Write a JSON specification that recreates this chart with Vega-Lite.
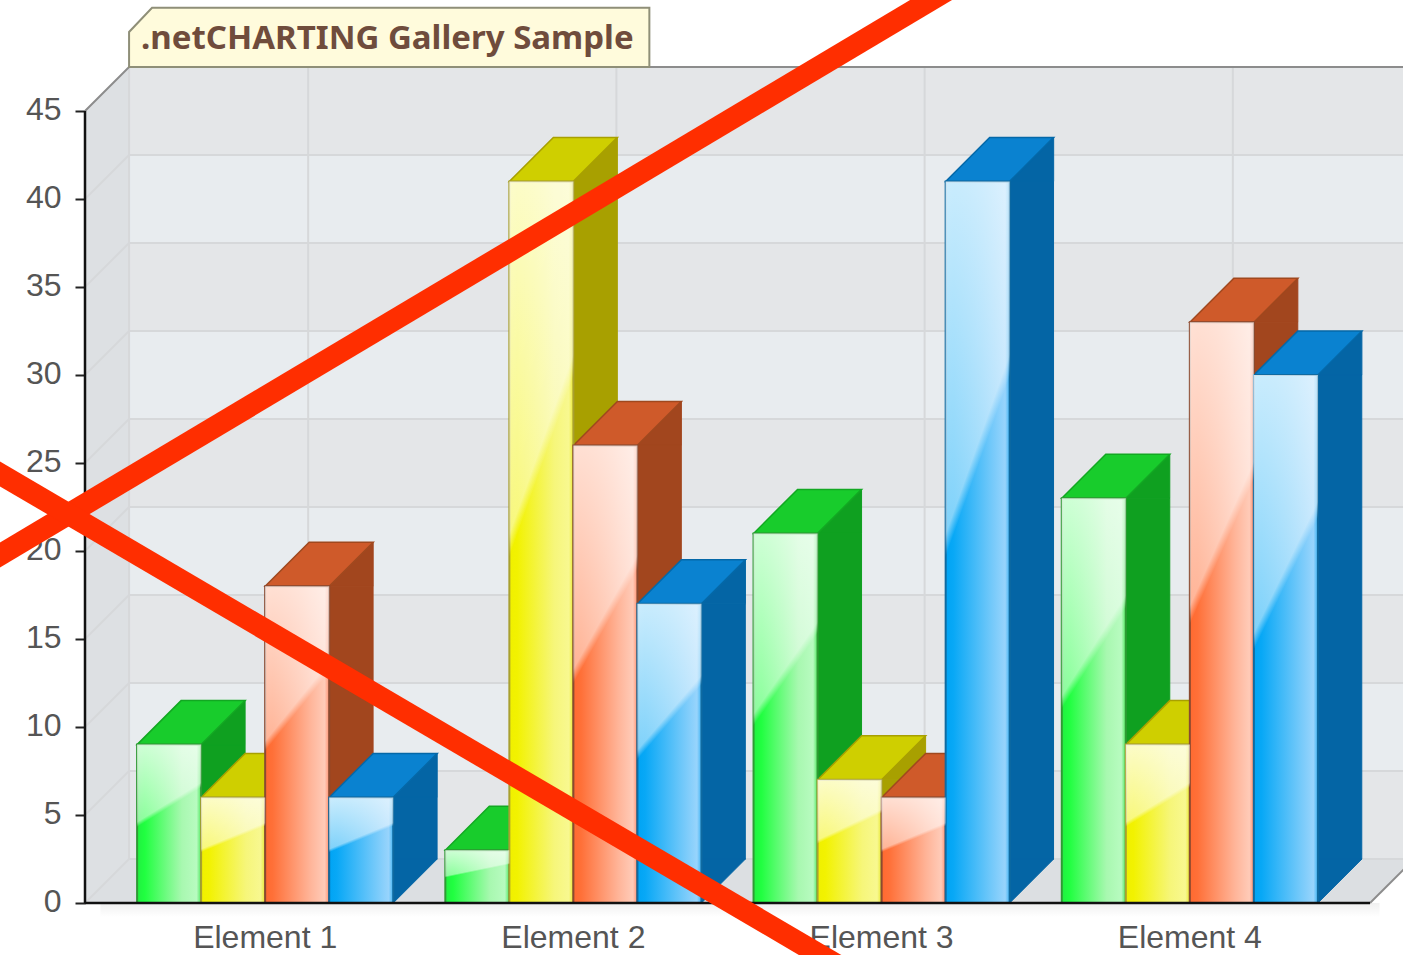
{
"$schema":"https://vega.github.io/schema/vega-lite/v6.json",
"width":1285,"height":792,
"padding":{"left":85,"top":111,"right":33,"bottom":52},
"autosize":{"type":"none"},
"background":"white",
"config":{"view":{"stroke":null},"font":"Liberation Sans",
"axisY":{"domain":false,"grid":false,"tickCount":10,"tickSize":10,"tickWidth":2,"tickColor":"#222","labelFontSize":32,"labelColor":"#555","labelFont":"Liberation Sans","labelPadding":14,"labelOffset":-2}},
"datasets":{
"bars":[
{"element":"Element 1","series":"Series 1","value":9},{"element":"Element 1","series":"Series 2","value":6},{"element":"Element 1","series":"Series 3","value":18},{"element":"Element 1","series":"Series 4","value":6},
{"element":"Element 2","series":"Series 1","value":3},{"element":"Element 2","series":"Series 2","value":41},{"element":"Element 2","series":"Series 3","value":26},{"element":"Element 2","series":"Series 4","value":17},
{"element":"Element 3","series":"Series 1","value":21},{"element":"Element 3","series":"Series 2","value":7},{"element":"Element 3","series":"Series 3","value":6},{"element":"Element 3","series":"Series 4","value":41},
{"element":"Element 4","series":"Series 1","value":23},{"element":"Element 4","series":"Series 2","value":9},{"element":"Element 4","series":"Series 3","value":33},{"element":"Element 4","series":"Series 4","value":30}],
"bands":[{"v0":42.5,"v1":47.5,"tone":"a"},{"v0":37.5,"v1":42.5,"tone":"b"},{"v0":32.5,"v1":37.5,"tone":"a"},{"v0":27.5,"v1":32.5,"tone":"b"},{"v0":22.5,"v1":27.5,"tone":"a"},{"v0":17.5,"v1":22.5,"tone":"b"},{"v0":12.5,"v1":17.5,"tone":"a"},{"v0":7.5,"v1":12.5,"tone":"b"},{"v0":2.5,"v1":7.5,"tone":"a"}],
"walls":[{"id":"left","gx":0,"lo":0,"hi":45},{"id":"left","gx":0.143,"lo":2.5,"hi":47.5}],
"floor":[{"id":"floor","gx":0,"lo":0,"hi":0},{"id":"floor","gx":0.143,"lo":0,"hi":2.5},{"id":"floor","gx":4.169,"lo":0,"hi":2.5},{"id":"floor","gx":4.312,"lo":2.5,"hi":2.5}],
"shadow":[{"gx":0.05,"gx2":4.2,"lo":-0.8,"hi":0}],
"grid":[
{"id":"h0","gx":0,"gy":0},{"id":"h0","gx":0.143,"gy":2.5},{"id":"h0","gx":4.312,"gy":2.5},
{"id":"h5","gx":0,"gy":5},{"id":"h5","gx":0.143,"gy":7.5},{"id":"h5","gx":4.312,"gy":7.5},
{"id":"h10","gx":0,"gy":10},{"id":"h10","gx":0.143,"gy":12.5},{"id":"h10","gx":4.312,"gy":12.5},
{"id":"h15","gx":0,"gy":15},{"id":"h15","gx":0.143,"gy":17.5},{"id":"h15","gx":4.312,"gy":17.5},
{"id":"h20","gx":0,"gy":20},{"id":"h20","gx":0.143,"gy":22.5},{"id":"h20","gx":4.312,"gy":22.5},
{"id":"h25","gx":0,"gy":25},{"id":"h25","gx":0.143,"gy":27.5},{"id":"h25","gx":4.312,"gy":27.5},
{"id":"h30","gx":0,"gy":30},{"id":"h30","gx":0.143,"gy":32.5},{"id":"h30","gx":4.312,"gy":32.5},
{"id":"h35","gx":0,"gy":35},{"id":"h35","gx":0.143,"gy":37.5},{"id":"h35","gx":4.312,"gy":37.5},
{"id":"h40","gx":0,"gy":40},{"id":"h40","gx":0.143,"gy":42.5},{"id":"h40","gx":4.312,"gy":42.5},
{"id":"v0","gx":0.143,"gy":2.5},{"id":"v0","gx":0.143,"gy":47.5},
{"id":"v1","gx":0.724,"gy":2.5},{"id":"v1","gx":0.724,"gy":47.5},
{"id":"v2","gx":1.724,"gy":2.5},{"id":"v2","gx":1.724,"gy":47.5},
{"id":"v3","gx":2.724,"gy":2.5},{"id":"v3","gx":2.724,"gy":47.5},
{"id":"v4","gx":3.724,"gy":2.5},{"id":"v4","gx":3.724,"gy":47.5}],
"edge":[{"id":"top","gx":0,"gy":45},{"id":"top","gx":0.143,"gy":47.5},{"id":"top","gx":4.312,"gy":47.5},{"id":"right","gx":4.169,"gy":0},{"id":"right","gx":4.312,"gy":2.5}],
"tag":[{"id":"tag","gx":0.143,"lo":47.5,"hi":49.49},{"id":"tag","gx":0.2175,"lo":47.5,"hi":50.86},{"id":"tag","gx":1.831,"lo":47.5,"hi":50.86}],
"title":[{"gx":0.182,"gy":49.1,"label":".netCHARTING Gallery Sample"}],
"base":[{"id":"y","gx":0,"gy":0},{"id":"y","gx":0,"gy":45},{"id":"x","gx":0,"gy":0},{"id":"x","gx":4.169,"gy":0}],
"cross":[{"id":"a","gx":-0.4056,"gy":18.42},{"id":"a","gx":2.888,"gy":52.8},{"id":"b","gx":-0.4056,"gy":25.71},{"id":"b","gx":2.515,"gy":-4.29}]
},
"layer":[
{"layer":[
{"data":{"name":"bands"},"mark":{"type":"rect"},"encoding":{
"x":{"datum":0.143,"type":"quantitative","scale":{"domain":[0,4.169]},"axis":null},
"x2":{"datum":4.312},
"y":{"field":"v0","type":"quantitative","title":null,"scale":{"domain":[0,45],"nice":false}},
"y2":{"field":"v1"},
"fill":{"field":"tone","type":"nominal","legend":null,"scale":{"domain":["a","b"],"range":["#e4e6e8","#e8ecef"]}}}},
{"data":{"name":"shadow"},"mark":{"type":"rect","fill":{"gradient":"linear","x1":0,"x2":0,"y1":0,"y2":1,"stops":[{"offset":0,"color":"#f0f0f0"},{"offset":1,"color":"#ffffff"}]}},"encoding":{
"x":{"field":"gx","type":"quantitative","scale":{"domain":[0,4.169]},"axis":null},
"x2":{"field":"gx2"},
"y":{"field":"lo","type":"quantitative","title":null},"y2":{"field":"hi"}}},
{"data":{"name":"walls"},"mark":{"type":"area","fill":"#dde0e3"},"encoding":{
"x":{"field":"gx","type":"quantitative","scale":{"domain":[0,4.169]},"axis":null},
"y":{"field":"lo","type":"quantitative","title":null},"y2":{"field":"hi"}}},
{"data":{"name":"floor"},"mark":{"type":"area","fill":"#dcdfe2"},"encoding":{
"x":{"field":"gx","type":"quantitative","scale":{"domain":[0,4.169]},"axis":null},
"y":{"field":"lo","type":"quantitative","title":null},"y2":{"field":"hi"}}},
{"data":{"name":"grid"},"mark":{"type":"line","stroke":"#d6d8da","strokeWidth":2},"encoding":{
"x":{"field":"gx","type":"quantitative","scale":{"domain":[0,4.169]},"axis":null},
"y":{"field":"gy","type":"quantitative","title":null},"detail":{"field":"id"}}},
{"data":{"name":"edge"},"mark":{"type":"line","stroke":"#8c8c8c","strokeWidth":2},"encoding":{
"x":{"field":"gx","type":"quantitative","scale":{"domain":[0,4.169]},"axis":null},
"y":{"field":"gy","type":"quantitative","title":null},"detail":{"field":"id"}}},
{"data":{"name":"tag"},"mark":{"type":"area","fill":"#fffbdc","stroke":"#8f8f78","strokeWidth":2},"encoding":{
"x":{"field":"gx","type":"quantitative","scale":{"domain":[0,4.169]},"axis":null},
"y":{"field":"lo","type":"quantitative","title":null},"y2":{"field":"hi"}}},
{"data":{"name":"title"},"mark":{"type":"text","align":"left","baseline":"middle","font":"Noto Sans","fontWeight":"bold","fontSize":33,"fill":"#6f4c3c"},"encoding":{
"x":{"field":"gx","type":"quantitative","scale":{"domain":[0,4.169]},"axis":null},
"y":{"field":"gy","type":"quantitative","title":null},"text":{"field":"label"}}}
]},
{"data":{"name":"bars"},
"resolve":{"scale":{"fill":"independent","stroke":"independent","xOffset":"independent"}},
"encoding":{"x":{"field":"element","type":"nominal","title":null,"scale":{"paddingInner":0.169,"paddingOuter":0.169},
"axis":{"labelAngle":0,"domain":false,"grid":false,"tickSize":10,"tickWidth":2,"tickColor":"#222","labelFontSize":32,"labelColor":"#555","labelFont":"Liberation Sans","labelPadding":9}}},
"layer":[
{"mark":{"type":"bar","strokeWidth":1},"encoding":{
"xOffset":{"field":"series","scale":{"domain":["Series 1","Series 2","Series 3","Series 4"],"range":[44,300]}},
"y":{"field":"value","type":"quantitative","title":null},
"y2":{"datum":2.5},
"fill":{"field":"series","legend":null,"scale":{"domain":["Series 1","Series 2","Series 3","Series 4"],"range":["#0fa020","#a8a000","#a2461e","#0465a5"]}},
"stroke":{"field":"series","legend":null,"scale":{"domain":["Series 1","Series 2","Series 3","Series 4"],"range":["#0fa020","#a8a000","#a2461e","#0465a5"]}}}},
{"mark":{"type":"point","shape":"M32,0L76,-44L76,0Z","filled":true,"size":4,"opacity":1,"strokeWidth":1},"encoding":{
"xOffset":{"field":"series","scale":{"domain":["Series 1","Series 2","Series 3","Series 4"]}},
"y":{"field":"value","type":"quantitative","title":null},
"fill":{"field":"series","legend":null,"scale":{"domain":["Series 1","Series 2","Series 3","Series 4"],"range":["#0fa020","#a8a000","#a2461e","#0465a5"]}},
"stroke":{"field":"series","legend":null,"scale":{"domain":["Series 1","Series 2","Series 3","Series 4"],"range":["#0fa020","#a8a000","#a2461e","#0465a5"]}}}},
{"mark":{"type":"point","shape":"M32,0L76,-44L32,-44Z","filled":true,"size":4,"opacity":1,"strokeWidth":1},"encoding":{
"xOffset":{"field":"series","scale":{"domain":["Series 1","Series 2","Series 3","Series 4"]}},
"y":{"datum":0,"type":"quantitative","title":null},
"fill":{"field":"series","legend":null,"scale":{"domain":["Series 1","Series 2","Series 3","Series 4"],"range":["#0fa020","#a8a000","#a2461e","#0465a5"]}},
"stroke":{"field":"series","legend":null,"scale":{"domain":["Series 1","Series 2","Series 3","Series 4"],"range":["#0fa020","#a8a000","#a2461e","#0465a5"]}}}},
{"mark":{"type":"point","shape":"M-32,0L32,0L76,-44L12,-44Z","filled":true,"size":4,"opacity":1,"strokeWidth":1.5},"encoding":{
"xOffset":{"field":"series","scale":{"domain":["Series 1","Series 2","Series 3","Series 4"]}},
"y":{"field":"value","type":"quantitative","title":null},
"fill":{"field":"series","legend":null,"scale":{"domain":["Series 1","Series 2","Series 3","Series 4"],"range":["#18cc2c","#cfcf00","#cf5a2a","#0a82d0"]}},
"stroke":{"field":"series","legend":null,"scale":{"domain":["Series 1","Series 2","Series 3","Series 4"],"range":["#12a822","#a8a000","#a0481e","#0468a8"]}}}},
{"mark":{"type":"bar","strokeWidth":2},"encoding":{
"xOffset":{"field":"series","scale":{"domain":["Series 1","Series 2","Series 3","Series 4"]}},
"y":{"field":"value","type":"quantitative","title":null},
"fill":{"condition":[
{"test":"datum.series==='Series 1'","value":{"gradient":"linear","x1":0,"x2":1,"y1":0,"y2":0,"stops":[{"offset":0,"color":"#20f040"},{"offset":0.12,"color":"#20ff40"},{"offset":0.7,"color":"#a8f8b0"},{"offset":0.93,"color":"#b8fbc0"},{"offset":1,"color":"#50e860"}]}},
{"test":"datum.series==='Series 2'","value":{"gradient":"linear","x1":0,"x2":1,"y1":0,"y2":0,"stops":[{"offset":0,"color":"#f0f000"},{"offset":0.12,"color":"#f2f200"},{"offset":0.7,"color":"#f6f67a"},{"offset":0.93,"color":"#f8f890"},{"offset":1,"color":"#e8e830"}]}},
{"test":"datum.series==='Series 3'","value":{"gradient":"linear","x1":0,"x2":1,"y1":0,"y2":0,"stops":[{"offset":0,"color":"#ff6a30"},{"offset":0.12,"color":"#ff7038"},{"offset":0.7,"color":"#ffb498"},{"offset":0.93,"color":"#ffcbb8"},{"offset":1,"color":"#ff9070"}]}}],
"value":{"gradient":"linear","x1":0,"x2":1,"y1":0,"y2":0,"stops":[{"offset":0,"color":"#00a4f4"},{"offset":0.12,"color":"#08a8f6"},{"offset":0.7,"color":"#70c8fa"},{"offset":0.93,"color":"#98d4fc"},{"offset":1,"color":"#40b4f4"}]}},
"stroke":{"field":"series","legend":null,"scale":{"domain":["Series 1","Series 2","Series 3","Series 4"],"range":["#2f9a35","#a8a030","#8a4a30","#106aa0"]}}}},
{"mark":{"type":"bar","fill":{"gradient":"linear","x1":0,"x2":0.25,"y1":0,"y2":1,"stops":[{"offset":0,"color":"rgba(255,255,255,0.8)"},{"offset":0.46,"color":"rgba(255,255,255,0.5)"},{"offset":0.49,"color":"rgba(255,255,255,0)"},{"offset":1,"color":"rgba(255,255,255,0)"}]}},"encoding":{
"xOffset":{"field":"series","scale":{"domain":["Series 1","Series 2","Series 3","Series 4"]}},
"y":{"field":"value","type":"quantitative","title":null}}}
]},
{"layer":[
{"data":{"name":"base"},"mark":{"type":"line","stroke":"#111","strokeWidth":2.5},"encoding":{
"x":{"field":"gx","type":"quantitative","scale":{"domain":[0,4.169]},"axis":null},
"y":{"field":"gy","type":"quantitative","title":null},"detail":{"field":"id"}}},
{"data":{"name":"cross"},"mark":{"type":"line","stroke":"#ff2e00","strokeWidth":21.5},"encoding":{
"x":{"field":"gx","type":"quantitative","scale":{"domain":[0,4.169]},"axis":null},
"y":{"field":"gy","type":"quantitative","title":null},"detail":{"field":"id"}}}
]}
],
"resolve":{"scale":{"x":"independent","fill":"independent","stroke":"independent"}}
}
